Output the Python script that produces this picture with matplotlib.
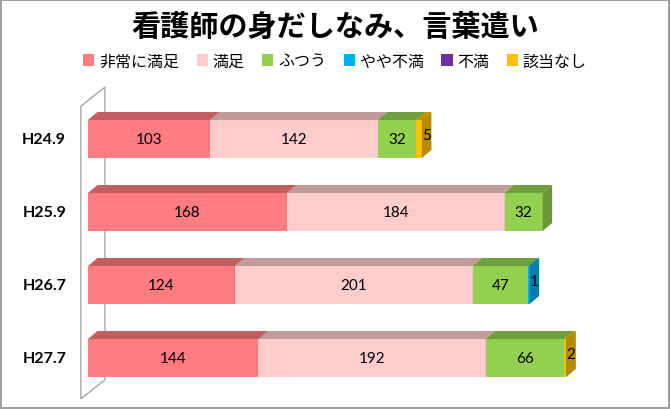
import matplotlib.pyplot as plt
from matplotlib.patches import Polygon, Patch
import matplotlib.colors as mcolors

plt.rcParams['font.family'] = ['Noto Sans CJK JP', 'DejaVu Sans']

# data
periods = ['H24.9', 'H25.9', 'H26.7', 'H27.7']
categories = ['非常に満足', '満足', 'ふつう', 'やや不満', '不満', '該当なし']
very_satisfied = [103, 168, 124, 144]
satisfied = [142, 184, 201, 192]
normal = [32, 32, 47, 66]
slightly_unhappy = [0, 0, 1, 0]
unhappy = [0, 0, 0, 0]
not_applicable = [5, 0, 0, 2]

colors = ['#FF7C80', '#FFCCCC', '#92D050', '#00B0F0', '#7030A0', '#FFC000']
series = [very_satisfied, satisfied, normal, slightly_unhappy, unhappy, not_applicable]


def darker(c, f):
    r, g, b = mcolors.to_rgb(c)
    return (r * f, g * f, b * f)


W, H = 670, 410
fig = plt.figure(figsize=(W / 100, H / 100), dpi=100)
fig.patch.set_edgecolor('#A0A0A0')
fig.patch.set_linewidth(1.5)

# pixel scale of the value axis
px_per_unit = 1.184
x0_px = 88
xmin, xmax = -15, 470
left = (x0_px + xmin * px_per_unit) / W
width = (xmax - xmin) * px_per_unit / W
ax = fig.add_axes([left, 1 - 400 / H, width, 320 / H])
row_px = 73
ax.set_xlim(xmin, xmax)
ax.set_ylim((400 - 140) / row_px, (80 - 140) / row_px)
ax.axis('off')

bar_h = 0.52
dx = 9.5 / px_per_unit      # depth offset in value units
dy = 8 / row_px             # depth offset in row units

# side wall
n = len(periods)
wdx = 24 / px_per_unit
wdy = 19 / row_px
wall_top, wall_bot = -0.45, n - 1 + 0.56
wall = Polygon([(-6, wall_top), (-6 + wdx, wall_top - wdy),
                (-6 + wdx, wall_bot - wdy), (-6, wall_bot)],
               closed=True, facecolor='none', edgecolor='#A6A6A6', lw=1, zorder=1)
ax.add_patch(wall)

for i, p in enumerate(periods):
    start = 0
    ytop = i - bar_h / 2
    ybot = i + bar_h / 2
    for k, s in enumerate(series):
        v = s[i]
        if v <= 0:
            continue
        end = start + v
        c = colors[k]
        ax.barh(i, v, left=start, height=bar_h, color=c, zorder=2)
        top = Polygon([(start, ytop), (start + dx, ytop - dy),
                       (end + dx, ytop - dy), (end, ytop)],
                      closed=True, facecolor=darker(c, 0.76), edgecolor='none', zorder=2)
        side = Polygon([(end, ytop), (end + dx, ytop - dy),
                        (end + dx, ybot - dy), (end, ybot)],
                       closed=True, facecolor=darker(c, 0.72), edgecolor='none', zorder=2)
        ax.add_patch(side)
        ax.add_patch(top)
        if v >= 10:
            ax.text(start + v / 2, i, str(v), ha='center', va='center', fontsize=11,
                    family=['Lato'], zorder=5)
        else:
            ax.text(end + dx / 2, i - dy / 2, str(v), ha='center', va='center',
                    fontsize=11, family=['Lato'], zorder=5)
        start = end
    ax.text(-37, i, p, ha='center', va='center', fontsize=11.5, fontweight='bold',
            family=['Lato'])

fig.text(0.5, 1 - 27 / H, '看護師の身だしなみ、言葉遣い', ha='center', va='center',
         fontsize=21, fontweight='bold')
handles = [Patch(facecolor=c, edgecolor='none') for c in colors]
fig.legend(handles, categories, loc='center', bbox_to_anchor=(0.5, 1 - 62 / H), ncol=6,
           frameon=False, fontsize=11.5, handlelength=0.7, handleheight=0.7,
           handletextpad=0.3, columnspacing=1.1)

fig.savefig('out.png', dpi=100)
